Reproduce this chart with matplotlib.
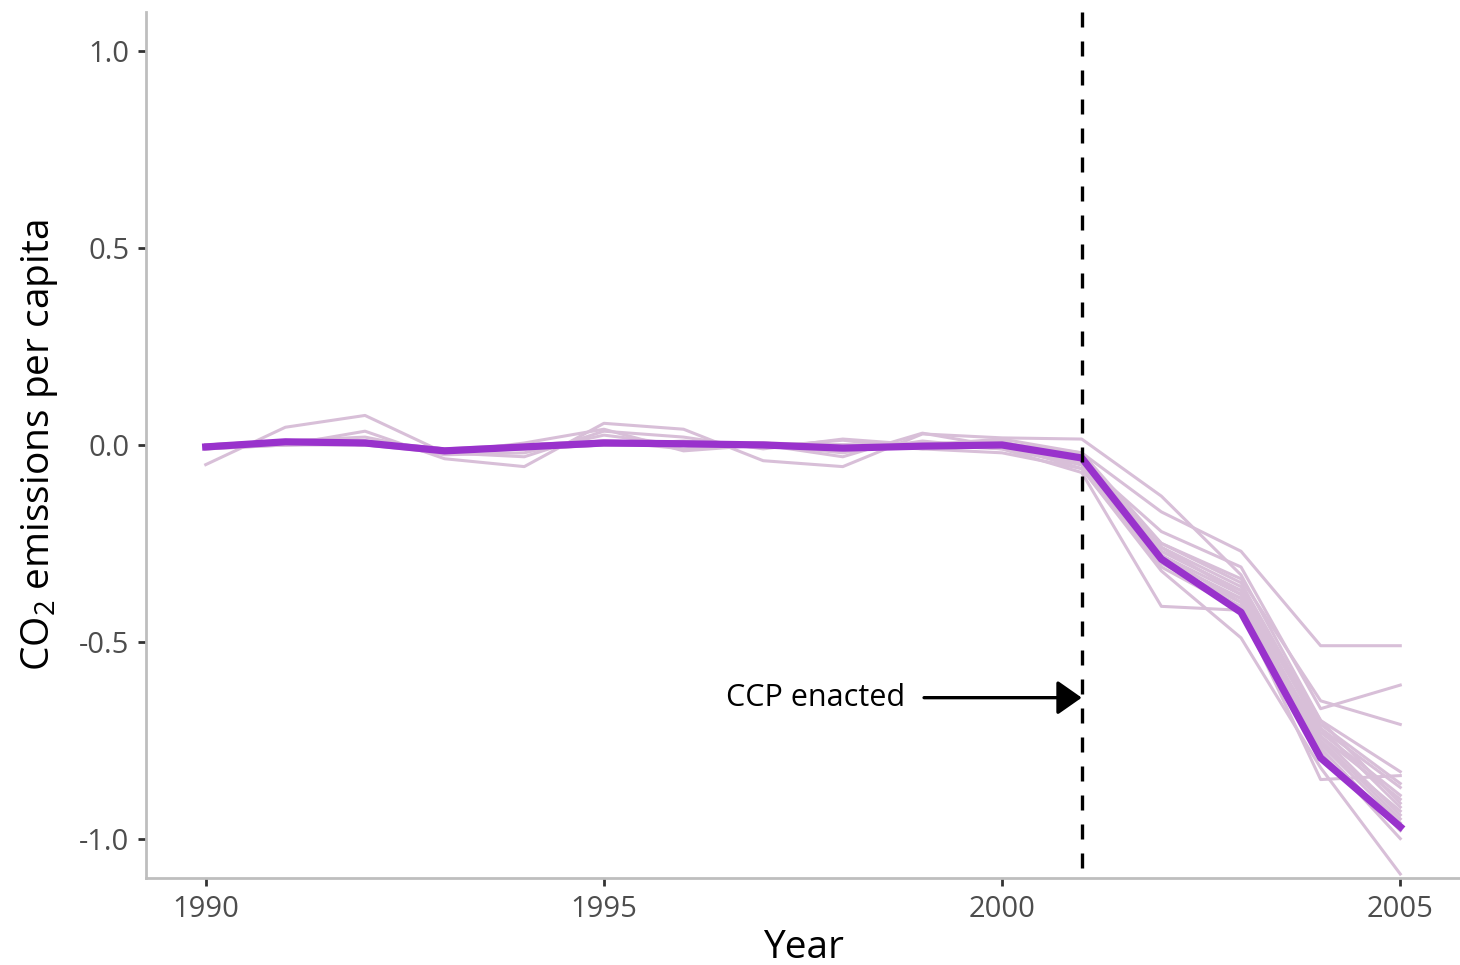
import numpy as np
import matplotlib.pyplot as plt

plt.rcParams['font.family'] = ['Open Sans', 'DejaVu Sans']
plt.rcParams['mathtext.fontset'] = 'custom'
plt.rcParams['mathtext.rm'] = 'Open Sans'

years = list(range(1990, 2006))

# average treated effect (thick line)
mean_line = [-0.005, 0.008, 0.005, -0.015, -0.005, 0.005, 0.003, 0.0,
             -0.008, -0.003, 0.0, -0.033, -0.29, -0.425, -0.795, -0.97]

# individual runs (thin lines), 1990..2005
runs = [
    [-0.05, 0.045, 0.075, -0.02, -0.03, 0.035, 0.02, -0.01, 0.015, 0.0, 0.015, -0.02, -0.17, -0.27, -0.51, -0.51],
    [-0.01, 0.0, 0.035, -0.035, -0.055, 0.055, 0.04, -0.04, -0.055, 0.028, 0.018, 0.015, -0.13, -0.33, -0.70, -0.83],
    [0.0, 0.01, 0.02, -0.02, 0.005, 0.04, -0.015, 0.0, -0.03, 0.03, -0.005, -0.04, -0.22, -0.31, -0.67, -0.61],
    [-0.01, 0.005, 0.01, -0.025, -0.02, 0.025, 0.0, -0.005, 0.012, -0.01, 0.01, -0.05, -0.25, -0.34, -0.65, -0.71],
    [0.0, 0.01, 0.0, -0.01, -0.01, 0.0, 0.01, 0.0, -0.02, 0.01, -0.01, -0.07, -0.41, -0.42, -0.85, -0.84],
    [-0.005, 0.0, 0.01, -0.02, 0.0, 0.01, -0.01, 0.005, 0.0, -0.01, -0.02, -0.06, -0.32, -0.49, -0.82, -1.09],
    [0.0, 0.005, 0.005, -0.01, -0.005, 0.005, 0.0, 0.0, -0.01, 0.0, 0.0, -0.03, -0.27, -0.37, -0.72, -0.87],
    [-0.005, 0.01, 0.0, -0.015, 0.0, 0.01, 0.005, 0.0, -0.005, -0.005, 0.005, -0.04, -0.29, -0.39, -0.74, -0.90],
    [0.0, 0.005, 0.01, -0.02, -0.01, 0.0, 0.0, 0.005, -0.01, 0.0, -0.005, -0.05, -0.30, -0.40, -0.76, -0.93],
    [-0.01, 0.0, 0.005, -0.01, 0.0, 0.005, 0.005, -0.005, 0.0, -0.005, 0.0, -0.03, -0.26, -0.36, -0.73, -0.89],
    [0.0, 0.01, 0.0, -0.015, -0.005, 0.01, 0.0, 0.0, -0.01, 0.005, 0.005, -0.04, -0.28, -0.38, -0.75, -0.95],
    [-0.005, 0.005, 0.01, -0.01, -0.01, 0.0, 0.005, 0.0, -0.005, 0.0, -0.01, -0.05, -0.30, -0.41, -0.77, -0.98],
    [0.0, 0.0, 0.005, -0.02, 0.0, 0.005, 0.0, 0.005, -0.01, -0.005, 0.005, -0.02, -0.25, -0.35, -0.71, -0.86],
    [-0.01, 0.01, 0.0, -0.01, -0.005, 0.01, 0.005, -0.005, 0.0, 0.0, 0.0, -0.06, -0.31, -0.42, -0.78, -1.00],
    [0.0, 0.005, 0.005, -0.015, 0.0, 0.0, 0.0, 0.0, -0.005, 0.005, -0.005, -0.04, -0.27, -0.37, -0.70, -0.91],
    [-0.005, 0.01, 0.01, -0.01, -0.01, 0.005, 0.0, 0.005, -0.01, 0.0, 0.0, -0.03, -0.29, -0.39, -0.74, -0.94],
    [0.0, 0.0, 0.0, -0.02, -0.005, 0.01, 0.005, 0.0, 0.0, -0.005, 0.005, -0.05, -0.28, -0.40, -0.76, -0.96],
    [-0.005, 0.005, 0.005, -0.015, 0.0, 0.005, 0.0, -0.005, -0.005, 0.0, -0.005, -0.04, -0.26, -0.38, -0.72, -0.92],
]

treat_year = 2001
label_text = "CCP enacted"

fig = plt.figure(figsize=(14.6, 9.65), dpi=100)
ax = fig.add_axes([0.1, 0.0902, 0.9, 0.8974])

for r in runs:
    ax.plot(years, r, color='#d8bfd8', lw=2.2, zorder=2)
ax.plot(years, mean_line, color='#9932cc', lw=5.2, zorder=3)

# dashed treatment line, drawn top-down so the dashes start at the top edge
ax.plot([treat_year, treat_year], [1.1, -1.1], color='black', lw=2.4,
        ls=(0, (4.5, 4.2)), zorder=4, clip_on=False)

ax.annotate('', xy=(treat_year, -0.642), xytext=(1999.02, -0.642),
            arrowprops=dict(arrowstyle='-|>,head_length=1.5,head_width=1.05',
                            color='black', lw=2.4, shrinkA=0, shrinkB=0), zorder=5)
ax.text(1998.78, -0.642, label_text, ha='right', va='center', fontsize=22, color='black')

ax.set_xlim(1989.25, 2005.75)
ax.set_ylim(-1.1, 1.1)
ax.set_xticks([1990, 1995, 2000, 2005])
ax.set_yticks([-1.0, -0.5, 0.0, 0.5, 1.0])
ax.set_yticklabels(['-1.0', '-0.5', '0.0', '0.5', '1.0'])

for s in ['top', 'right']:
    ax.spines[s].set_visible(False)
for s in ['left', 'bottom']:
    ax.spines[s].set_color('#bebebe')
    ax.spines[s].set_linewidth(2)

ax.tick_params(axis='both', length=6, width=2, color='#333333',
               labelsize=21, labelcolor='#4d4d4d', pad=6)

ax.set_xlabel('Year', fontsize=28, labelpad=4)
ax.set_ylabel(r'CO$_{\mathregular{2}}$ emissions per capita', fontsize=28, labelpad=14)

fig.savefig('out.png', dpi=100)
